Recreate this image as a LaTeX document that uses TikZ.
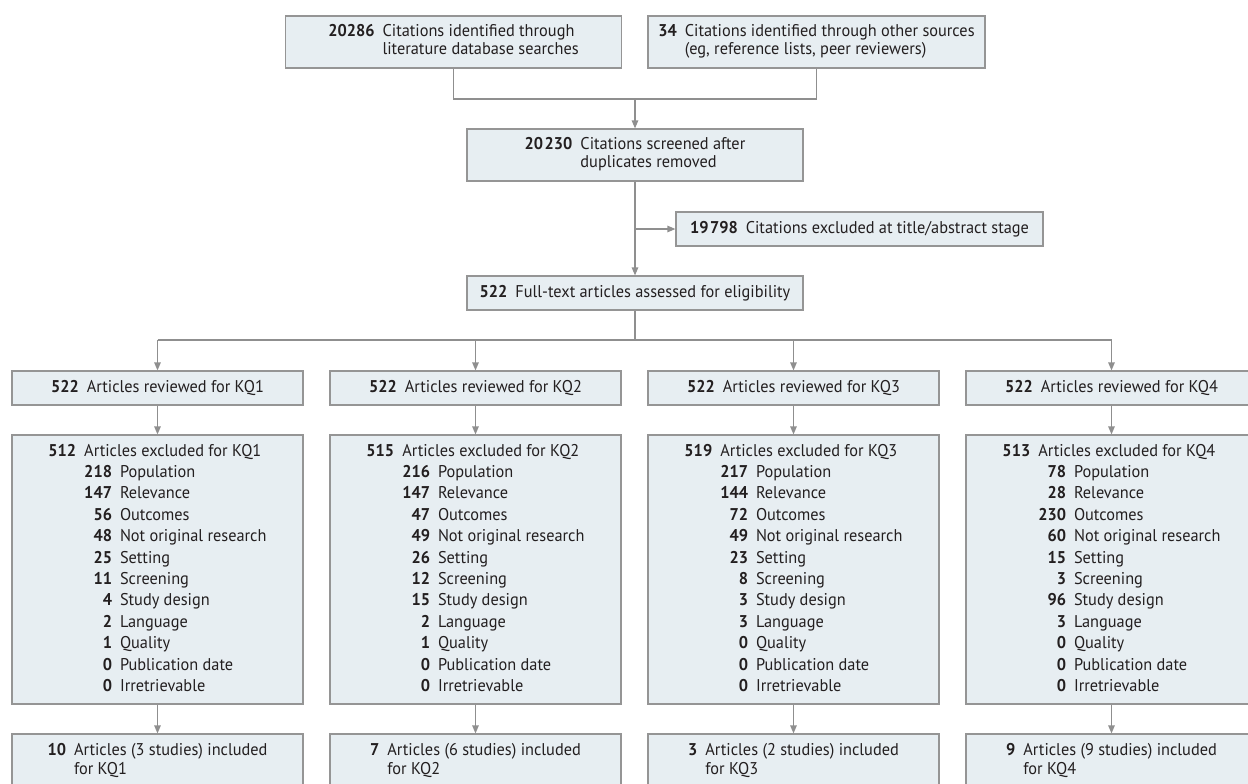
\documentclass[tikz,border=0pt]{standalone}
\usepackage{fontspec}
\setmainfont{PT Sans}[FakeStretch=0.96]
\usetikzlibrary{arrows.meta}
\definecolor{boxfill}{HTML}{E7EEF2}
\definecolor{boxline}{HTML}{959595}
\definecolor{linkgray}{HTML}{8F8F8F}
\definecolor{ink}{HTML}{231F20}
\newcommand{\exrow}[2]{& \textbf{#1} & #2\\}
\newcommand{\twoline}[3]{\begin{tabular}{@{}r@{\hspace{8pt}}l@{}}\textbf{#1} & #2\\ & #3\end{tabular}}

\begin{document}
\begin{tikzpicture}[x=1pt,y=-1pt,font=\fontsize{17}{18.5}\selectfont,
    box/.style={draw=boxline,fill=boxfill,line width=1.2pt,inner sep=0pt,text=ink,align=center},
    listbox/.style={box,minimum width=291,minimum height=269,font=\fontsize{17}{21.4}\selectfont},
    link/.style={draw=linkgray,line width=1.2pt},
    arr/.style={link,-{Triangle[length=8pt,width=6.5pt]}}]
    \useasboundingbox (0,0) rectangle (1248,784);
    \clip (0,0) rectangle (1248,784);
    % identification
    \node[box,minimum width=336,minimum height=52] (dbsearch) at (453.5,42) {\twoline{20286}{Citations identified through}{literature database searches}};
    \node[box,minimum width=337,minimum height=52] (othersrc) at (816.5,42) {\twoline{34}{Citations identified through other sources}{(eg, reference lists, peer reviewers)}};
    \node[box,minimum width=336,minimum height=52] (screened) at (635,155) {\twoline{20\kern1.5pt230}{Citations screened after}{duplicates removed}};
    \node[box,minimum width=367,minimum height=34] (titleexcl) at (859.5,229) {\textbf{19\kern1.5pt798}\hspace{8pt}Citations excluded at title/abstract stage};
    \node[box,minimum width=336,minimum height=34] (fulltext) at (635,293) {\textbf{522}\hspace{8pt}Full-text articles assessed for eligibility};
    \coordinate (merge) at (635,99);
    \coordinate (branch) at (screened.south |- titleexcl.west);
    \coordinate (split) at (635,340);
    \draw[link] (dbsearch.south) |- (merge);
    \draw[link] (othersrc.south) |- (merge);
    \draw[arr] (merge) -- (screened.north);
    \draw[arr] (screened.south) -- (fulltext.north);
    \draw[arr] (branch) -- (titleexcl.west);
    \draw[link] (fulltext.south) -- (split);
    % key questions
    \foreach \k/\x in {1/157.5,2/475.5,3/793.5,4/1111.5}
        \node[box,minimum width=291,minimum height=34] (review\k) at (\x,388) {\textbf{522}\hspace{8pt}Articles reviewed for KQ\k};
    \draw[link] (review1.north |- split) -- (review4.north |- split);
    \node[listbox] (excl1) at (157.5,569.5) {\begin{tabular}{@{}r@{\hspace{8pt}}r@{\hspace{8pt}}l@{}}
        \textbf{512} & \multicolumn{2}{@{}l@{}}{Articles excluded for KQ1}\\
        \exrow{218}{Population}\exrow{147}{Relevance}\exrow{56}{Outcomes}\exrow{48}{Not original research}
        \exrow{25}{Setting}\exrow{11}{Screening}\exrow{4}{Study design}\exrow{2}{Language}
        \exrow{1}{Quality}\exrow{0}{Publication date}& \textbf{0} & Irretrievable
        \end{tabular}};
    \node[listbox] (excl2) at (475.5,569.5) {\begin{tabular}{@{}r@{\hspace{8pt}}r@{\hspace{8pt}}l@{}}
        \textbf{515} & \multicolumn{2}{@{}l@{}}{Articles excluded for KQ2}\\
        \exrow{216}{Population}\exrow{147}{Relevance}\exrow{47}{Outcomes}\exrow{49}{Not original research}
        \exrow{26}{Setting}\exrow{12}{Screening}\exrow{15}{Study design}\exrow{2}{Language}
        \exrow{1}{Quality}\exrow{0}{Publication date}& \textbf{0} & Irretrievable
        \end{tabular}};
    \node[listbox] (excl3) at (793.5,569.5) {\begin{tabular}{@{}r@{\hspace{8pt}}r@{\hspace{8pt}}l@{}}
        \textbf{519} & \multicolumn{2}{@{}l@{}}{Articles excluded for KQ3}\\
        \exrow{217}{Population}\exrow{144}{Relevance}\exrow{72}{Outcomes}\exrow{49}{Not original research}
        \exrow{23}{Setting}\exrow{8}{Screening}\exrow{3}{Study design}\exrow{3}{Language}
        \exrow{0}{Quality}\exrow{0}{Publication date}& \textbf{0} & Irretrievable
        \end{tabular}};
    \node[listbox] (excl4) at (1111.5,569.5) {\begin{tabular}{@{}r@{\hspace{8pt}}r@{\hspace{8pt}}l@{}}
        \textbf{513} & \multicolumn{2}{@{}l@{}}{Articles excluded for KQ4}\\
        \exrow{78}{Population}\exrow{28}{Relevance}\exrow{230}{Outcomes}\exrow{60}{Not original research}
        \exrow{15}{Setting}\exrow{3}{Screening}\exrow{96}{Study design}\exrow{3}{Language}
        \exrow{0}{Quality}\exrow{0}{Publication date}& \textbf{0} & Irretrievable
        \end{tabular}};
    \node[box,minimum width=291,minimum height=55] (incl1) at (157.5,761.5) {\twoline{10}{Articles (3 studies) included}{for KQ1}};
    \node[box,minimum width=291,minimum height=55] (incl2) at (475.5,761.5) {\twoline{7}{Articles (6 studies) included}{for KQ2}};
    \node[box,minimum width=291,minimum height=55] (incl3) at (793.5,761.5) {\twoline{3}{Articles (2 studies) included}{for KQ3}};
    \node[box,minimum width=291,minimum height=55] (incl4) at (1111.5,761.5) {\twoline{9}{Articles (9 studies) included}{for KQ4}};
    \foreach \k in {1,2,3,4} {
        \draw[arr] (review\k.north |- split) -- (review\k.north);
        \draw[arr] (review\k.south) -- (excl\k.north);
        \draw[arr] (excl\k.south) -- (incl\k.north);
    }
\end{tikzpicture}
\end{document}
